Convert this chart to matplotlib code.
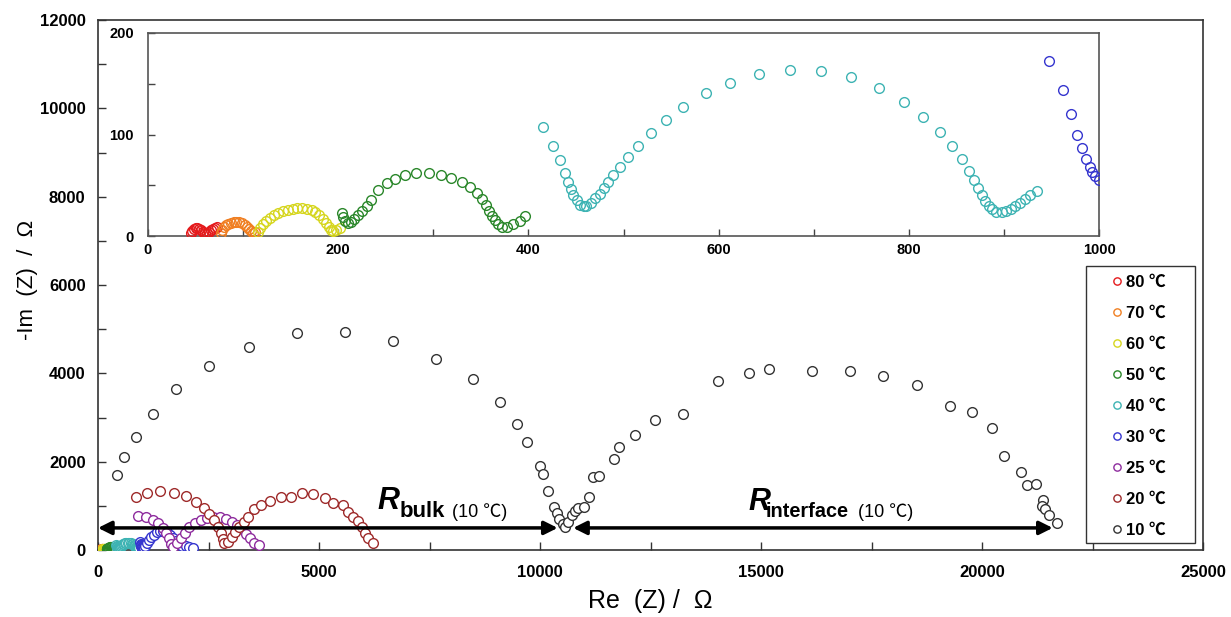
import matplotlib
matplotlib.use("Agg")
import matplotlib.pyplot as plt
from matplotlib.patches import Rectangle
from matplotlib.ticker import MultipleLocator

plt.rcParams["font.family"] = ["Liberation Sans", "Noto Sans CJK JP", "DejaVu Sans"]

# temperature labels and marker colours
labels = ["80 ℃", "70 ℃", "60 ℃", "50 ℃", "40 ℃", "30 ℃", "25 ℃", "20 ℃", "10 ℃"]
colors = ["#E41A1C", "#F07F22", "#D6D61E", "#2A872A", "#3DB3B3",
          "#3535CF", "#8E2C9E", "#9E2A2A", "#333333"]

# Re(Z) / -Im(Z) readings, Ohm
x80 = [45, 46, 48, 50, 52, 54, 56, 58, 60, 62, 64, 66, 68, 70, 73]
y80 = [3, 5, 7, 8, 8, 7, 6, 4, 3, 3, 4, 6, 7, 8, 9]

x70 = [77, 78, 80, 82, 84, 87, 90, 93, 96, 99, 102, 104, 106, 108, 110, 112]
y70 = [3, 6, 9, 11, 12, 13, 14, 14, 14, 13, 11, 9, 7, 5, 3, 4]

x60 = [116, 118, 121, 124, 128, 132, 137, 142, 147, 152, 157, 162, 167, 172,
       176, 180, 184, 187, 190, 192, 195, 198, 202]
y60 = [4, 8, 12, 15, 18, 21, 23, 25, 26, 27, 27.5, 27.5, 27, 26,
       24, 21, 17, 13, 9, 6, 5, 6, 8]

x50 = [204, 205, 207, 210, 213, 217, 221, 225, 230, 235, 242, 251, 260, 270,
       282, 295, 308, 319, 330, 339, 346, 351, 355, 359, 362, 365, 368, 372,
       377, 384, 391, 396]
y50 = [23, 19, 15, 13, 14, 17, 21, 25, 30, 35, 45, 52, 56, 60,
       62, 62, 60, 57, 53, 48, 42, 36, 31, 25, 20, 16, 12, 9,
       9, 12, 15, 20]

x40 = [415, 426, 433, 438, 442, 445, 447, 451, 454, 458, 461, 466, 470, 475,
       480, 484, 489, 496, 505, 515, 529, 545, 563, 587, 612, 642, 675, 708,
       739, 769, 795, 815, 833, 845, 856, 863, 869, 873, 877, 880, 884, 887,
       892, 898, 902, 907, 912, 917, 922, 927, 935]
y40 = [107, 89, 75, 62, 53, 46, 40, 35, 31, 30, 30, 33, 37, 41,
       47, 53, 60, 68, 78, 89, 101, 114, 127, 141, 151, 160, 164, 163,
       157, 146, 132, 117, 102, 89, 76, 64, 55, 47, 40, 34, 30, 27,
       24, 24, 25, 27, 30, 33, 36, 40, 44]

x30 = [947, 962, 971, 977, 982, 986, 991, 993, 996, 1000, 1015, 1035, 1065,
       1100, 1150, 1200, 1260, 1330, 1400, 1480, 1550, 1620, 1690, 1760,
       1830, 1900, 1980, 2060, 2150]
y30 = [172, 144, 120, 100, 87, 76, 68, 63, 59, 55, 50, 55, 90,
       150, 220, 290, 350, 400, 430, 430, 400, 340, 270, 200,
       140, 100, 80, 65, 55]

x25 = [912, 1086, 1237, 1365, 1463, 1538, 1599, 1644, 1704, 1787, 1870, 1968,
       2066, 2195, 2323, 2459, 2609, 2760, 2896, 3024, 3137, 3250, 3348, 3439,
       3529, 3649]
y25 = [770, 740, 679, 604, 505, 392, 264, 136, 75, 151, 264, 392,
       528, 619, 679, 724, 755, 740, 694, 642, 566, 468, 362, 264,
       166, 106]

x20 = [860, 1116, 1403, 1719, 1983, 2217, 2398, 2519, 2624, 2708, 2775, 2820,
       2858, 2949, 3024, 3100, 3197, 3303, 3401, 3529, 3688, 3891, 4133, 4359,
       4623, 4857, 5136, 5324, 5535, 5664, 5777, 5890, 5965, 6041, 6116, 6229]
y20 = [1207, 1298, 1328, 1298, 1222, 1086, 943, 807, 679, 528, 377, 242,
       151, 170, 302, 415, 528, 642, 755, 921, 1019, 1117, 1192, 1207,
       1283, 1268, 1170, 1071, 1019, 868, 755, 664, 528, 377, 264, 151]

x10 = [422, 596, 868, 1252, 1765, 2511, 3416, 4502, 5588, 6674, 7647, 8484,
       9095, 9480, 9706, 10000, 10068, 10181, 10317, 10378, 10430, 10513,
       10565, 10640, 10717, 10792, 10867, 11003, 11109, 11207, 11342, 11674,
       11795, 12157, 12600, 13235, 14027, 14729, 15181, 16154, 17014, 17760,
       18529, 19276, 19774, 20226, 20505, 20882, 21010, 21214, 21387, 21364,
       21425, 21516, 21690]
y10 = [1698, 2098, 2551, 3079, 3645, 4166, 4596, 4913, 4936, 4732, 4324, 3871,
       3351, 2853, 2445, 1902, 1720, 1336, 973, 830, 694, 581,
       528, 642, 792, 890, 943, 981, 1192, 1645, 1675, 2060,
       2325, 2604, 2943, 3079, 3826, 4007, 4098, 4053, 4053, 3939,
       3736, 3260, 3124, 2762, 2128, 1773, 1472, 1494, 1132, 996,
       921, 792, 604]

xs = [x80, x70, x60, x50, x40, x30, x25, x20, x10]
ys = [y80, y70, y60, y50, y40, y30, y25, y20, y10]

# R_bulk / R_interface spans for 10 C
bulk_span = (0, 10400)
interface_span = (10750, 21600)
arrow_y = 500

W, H = 1231, 617
fig = plt.figure(figsize=(W / 100, H / 100), dpi=100)
ax = fig.add_axes([98 / W, 1 - 550 / H, (1203 - 98) / W, (550 - 20) / H])
ins = fig.add_axes([148 / W, 1 - 236 / H, (1099 - 148) / W, (236 - 33) / H])

handles = []
for x, y, c, lab in zip(xs, ys, colors, labels):
    h, = ax.plot(x, y, "o", mfc="white", mec=c, mew=1.0, ms=7, label=lab, zorder=3)
    ins.plot(x, y, "o", mfc="none", mec=c, mew=1.0, ms=7, zorder=3)
    handles.append(h)

ax.set_xlim(0, 25000)
ax.set_ylim(0, 12000)
ax.xaxis.set_major_locator(MultipleLocator(5000))
ax.xaxis.set_minor_locator(MultipleLocator(2500))
ax.yaxis.set_major_locator(MultipleLocator(2000))
ax.yaxis.set_minor_locator(MultipleLocator(1000))
ax.tick_params(which="both", direction="in", length=6, width=1, color="#333333",
               top=False, right=False)
ax.tick_params(which="major", labelsize=12, pad=9)
ax.tick_params(axis="x", pad=11)
for t in ax.get_xticklabels() + ax.get_yticklabels():
    t.set_fontweight("bold")
for s in ax.spines.values():
    s.set_color("#333333")
    s.set_linewidth(1.2)

ax.set_xlabel("Re  (Z) /  Ω", fontsize=18, labelpad=6)
ax.set_ylabel("-Im  (Z)  /  Ω", fontsize=16)
ax.yaxis.set_label_coords((38 - 98) / 1105, (550 - 280) / 530)

ins.set_xlim(0, 1000)
ins.set_ylim(0, 200)
ins.xaxis.set_major_locator(MultipleLocator(200))
ins.xaxis.set_minor_locator(MultipleLocator(100))
ins.yaxis.set_major_locator(MultipleLocator(100))
ins.yaxis.set_minor_locator(MultipleLocator(50))
ins.tick_params(which="both", direction="in", length=5, width=1, color="#444444",
                top=False, right=False)
ins.tick_params(which="major", labelsize=10.5)
ins.tick_params(axis="x", pad=5)
ins.tick_params(axis="y", pad=10)
for t in ins.get_xticklabels() + ins.get_yticklabels():
    t.set_fontweight("bold")
for s in ins.spines.values():
    s.set_color("#555555")
    s.set_linewidth(1.2)

# resistance arrows
for a, b in (bulk_span, interface_span):
    ax.annotate("", xy=(a, arrow_y), xytext=(b, arrow_y),
                arrowprops=dict(arrowstyle="<|-|>", color="black", lw=2.5,
                                mutation_scale=20, shrinkA=0, shrinkB=0),
                zorder=5)

ax.text(6312, 928, "R", fontsize=22, fontweight="bold", style="italic", zorder=6)
ax.text(6833, 747, "bulk", fontsize=16, fontweight="bold", zorder=6)
ax.text(8009, 747, "(10 ℃)", fontsize=13, zorder=6)
ax.text(14706, 905, "R", fontsize=22, fontweight="bold", style="italic", zorder=6)
ax.text(15113, 747, "interface", fontsize=14.3, fontweight="bold", zorder=6)
ax.text(17195, 747, "(10 ℃)", fontsize=13, zorder=6)

# legend: entries without frame, box drawn separately
leg = fig.legend(handles=handles, loc="center left",
                 bbox_to_anchor=(1108.7 / W, 1 - 406.5 / H), frameon=False,
                 prop={"weight": "bold", "size": 12}, markerscale=0.75,
                 labelspacing=0.96, handlelength=1.0, handletextpad=0.05,
                 borderpad=0, borderaxespad=0)
fig.patches.append(Rectangle((1086 / W, 1 - 543 / H), (1195 - 1086) / W,
                             (543 - 266) / H, transform=fig.transFigure,
                             fill=True, facecolor="white", edgecolor="#333333",
                             lw=1.0, zorder=0))

fig.savefig("out.png", dpi=100)
